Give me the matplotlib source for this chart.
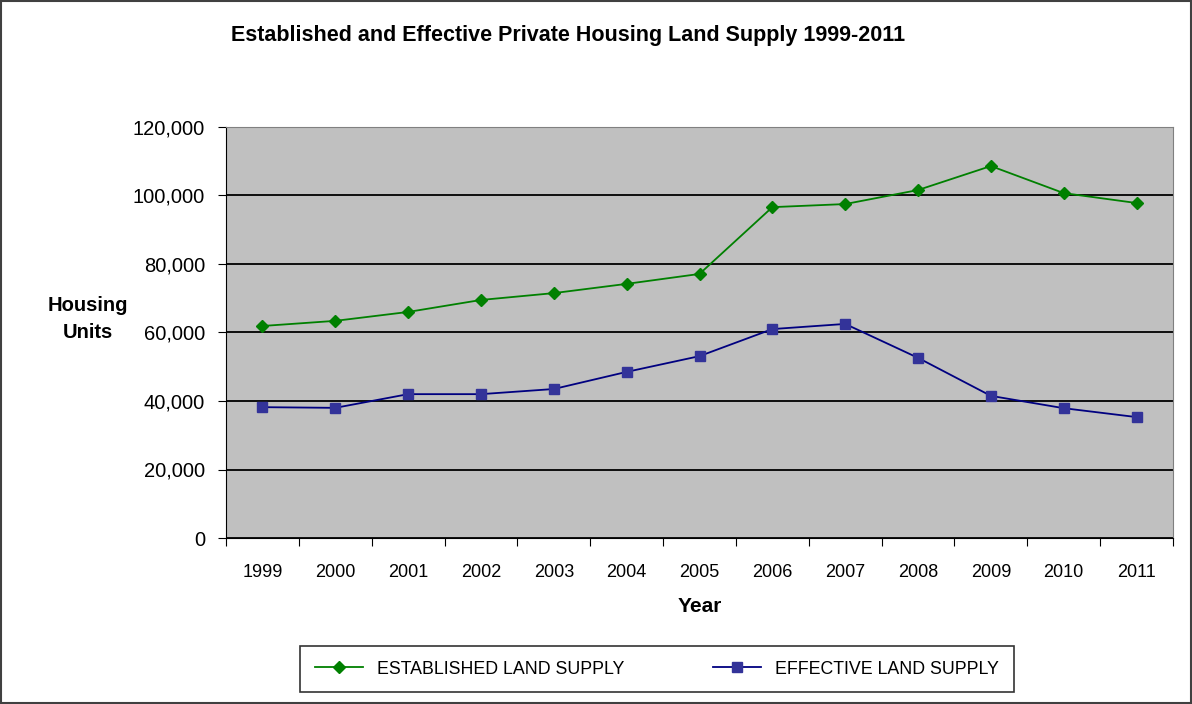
import matplotlib
matplotlib.use("Agg")
from matplotlib import pyplot as plt
from matplotlib.patches import Rectangle
import numpy as np

plt.rcParams['font.family'] = ['Liberation Sans', 'DejaVu Sans']

years = ['1999', '2000', '2001', '2002', '2003', '2004', '2005',
         '2006', '2007', '2008', '2009', '2010', '2011']
established = [61900, 63400, 66000, 69500, 71500, 74200, 77100,
               96600, 97500, 101600, 108600, 100700, 97800]
effective = [38200, 38000, 42000, 42000, 43500, 48500, 53100,
             61000, 62500, 52600, 41500, 37900, 35300]
yticks = [0, 20000, 40000, 60000, 80000, 100000, 120000]

fig = plt.figure(figsize=(11.92, 7.04), dpi=100)
W, H = 1192, 704
ax = fig.add_axes([226 / W, 1 - 538 / H, (1173 - 226) / W, (538 - 127) / H])
ax.set_facecolor('#c0c0c0')

x = np.arange(len(years))
ax.plot(x, established, color='#008000', lw=1.3, marker='D', ms=6,
        label='ESTABLISHED LAND SUPPLY', zorder=3)
ax.plot(x, effective, color='#000080', lw=1.3, marker='s', ms=7,
        markerfacecolor='#333399', markeredgecolor='#333399',
        label='EFFECTIVE LAND SUPPLY', zorder=3)

ax.set_ylim(0, 120000)
ax.set_yticks(yticks)
ax.set_yticklabels(['{:,}'.format(v) for v in yticks], fontsize=14.5)
ax.yaxis.grid(True, color='black', lw=1.3)
ax.set_axisbelow(True)

ax.set_xlim(-0.5, len(years) - 0.5)
ax.set_xticks(np.arange(len(years) + 1) - 0.5)
ax.set_xticklabels([])
ax.set_xticks(x, minor=True)
ax.set_xticklabels(years, minor=True, fontsize=13)
ax.tick_params(axis='x', which='minor', length=0, pad=19)
ax.tick_params(axis='x', which='major', length=6, direction='out')
ax.tick_params(axis='y', length=6, direction='out', pad=9)

for s in ['top', 'right']:
    ax.spines[s].set_color('#808080')
for s in ['left', 'bottom']:
    ax.spines[s].set_color('black')

ax.set_xlabel('Year', fontsize=15, fontweight='bold', labelpad=11)
fig.text(88 / W, 1 - 319 / H, 'Housing\nUnits', fontsize=14.5, fontweight='bold',
         ha='center', va='center', linespacing=1.5)
fig.text(568 / W, 1 - 35 / H, 'Established and Effective Private Housing Land Supply 1999-2011',
         fontsize=15.5, fontweight='bold', ha='center', va='center')

leg = fig.legend(loc='center', bbox_to_anchor=(657 / W, 1 - 669 / H), ncol=2,
                 fontsize=12.8, frameon=True, fancybox=False, edgecolor='black',
                 handlelength=2.7, columnspacing=5.0, borderpad=0.8)
leg.get_frame().set_linewidth(1.2)

fig.patches.append(Rectangle((0.001, 0.001), 0.998, 0.998, transform=fig.transFigure,
                             fill=False, edgecolor='#404040', lw=1.5))

fig.savefig('out.png', dpi=100)
